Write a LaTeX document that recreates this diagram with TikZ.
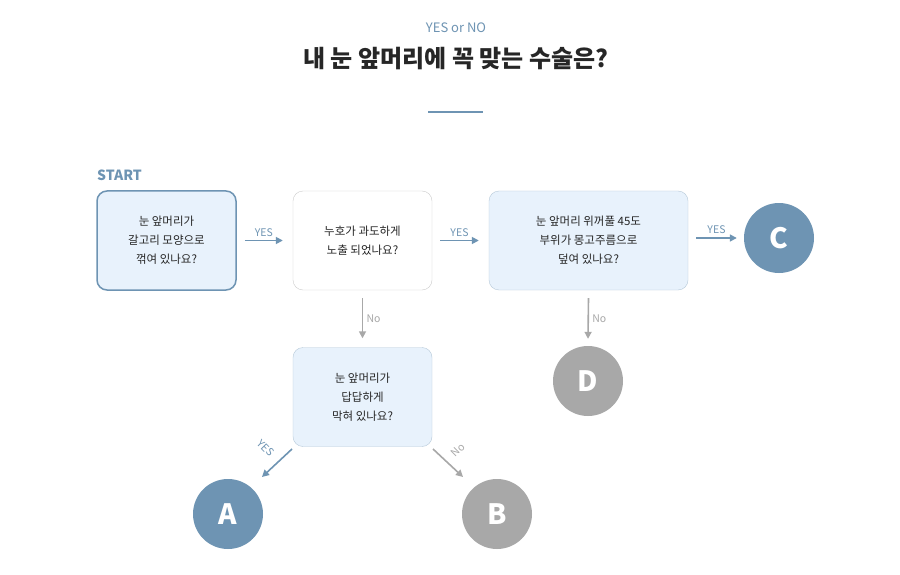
\documentclass[tikz,border=0pt]{standalone}
\usepackage{fontspec}
\setmainfont{Noto Sans CJK KR}
\usetikzlibrary{arrows.meta}
\definecolor{bl}{HTML}{6E94B3}
\definecolor{lb}{HTML}{E8F2FC}
\definecolor{gr}{HTML}{A8A8A8}
\begin{document}
\begin{tikzpicture}[x=1pt,y=-1pt,
 box/.style={rounded corners=10pt,minimum width=139pt,minimum height=99pt,align=center,font=\fontsize{11.5}{19}\selectfont,text=black!85},
 circ/.style={circle,minimum size=70pt,inner sep=0pt,text=white,font=\fontsize{28}{28}\selectfont\bfseries},
 arr/.style={-{Triangle[length=7pt,width=7pt]},line width=1.6pt},
 lab/.style={font=\fontsize{10.5}{10.5}\selectfont}]
\useasboundingbox (0,0) rectangle (900,575);
\fill[white] (0,0) rectangle (900,575);
\node (sub) at (456,28) [text=bl,font=\fontsize{13}{13}\selectfont] {YES or NO};
\node (title) at (456,59) [text=black!85,font=\fontsize{24}{24}\selectfont\bfseries] {내 눈 앞머리에 꼭 맞는 수술은?};
\draw[bl,line width=2.5pt] (428,112) -- (483,112);
\node (start) at (97,175) [anchor=west,inner sep=0pt,text=bl,font=\fontsize{14}{14}\selectfont\bfseries] {START};
\node[box,fill=lb,draw=bl,line width=1.5pt] (q1) at (166.5,240.5) {눈 앞머리가\\갈고리 모양으로\\꺾여 있나요?};
\node[box,fill=white,draw=black!20] (q2) at (362.5,240.5) {누호가 과도하게\\노출 되었나요?};
\node[box,fill=lb,draw=bl!50,minimum width=199pt] (q3) at (588.5,240.5) {눈 앞머리 위꺼풀 45도\\부위가 몽고주름으로\\덮여 있나요?};
\node[box,fill=lb,draw=bl!50] (q4) at (362.5,397) {눈 앞머리가\\답답하게\\막혀 있나요?};
\node[circ,fill=bl] (C) at (779,238) {C};
\node[circ,fill=gr] (D) at (588,381) {D};
\node[circ,fill=bl] (A) at (228,514) {A};
\node[circ,fill=gr] (B) at (497,514) {B};
\draw[arr,bl] ([xshift=8pt]q1.east) -- node[lab,above,text=bl]{YES} ([xshift=-10pt]q2.west);
\draw[arr,bl] ([xshift=8pt]q2.east) -- node[lab,above,text=bl]{YES} ([xshift=-10pt]q3.west);
\draw[arr,bl] (q3.east|-C.west) ++(8pt,0) -- node[lab,above,text=bl]{YES} ([xshift=-7pt]C.west);
\draw[arr,gr] (q2.south) ++(0,8) -- node[lab,right,text=gr]{No} ([yshift=9pt]q4.north);
\draw[arr,gr] (q3.south) ++(0,8) -- node[lab,right,text=gr]{No} ([yshift=7pt]D.north);
\coordinate (a0) at (292,449); \coordinate (a1) at (262,477);
\coordinate (b0) at (433,449); \coordinate (b1) at (463,477);
\draw[arr,bl] (a0) -- (a1);
\draw[arr,gr] (b0) -- (b1);
\node[lab,text=bl,rotate=-45] (ly) at (266,448) {YES};
\node[lab,text=gr,rotate=45] (ln) at (458,450) {No};
\end{tikzpicture}
\end{document}
